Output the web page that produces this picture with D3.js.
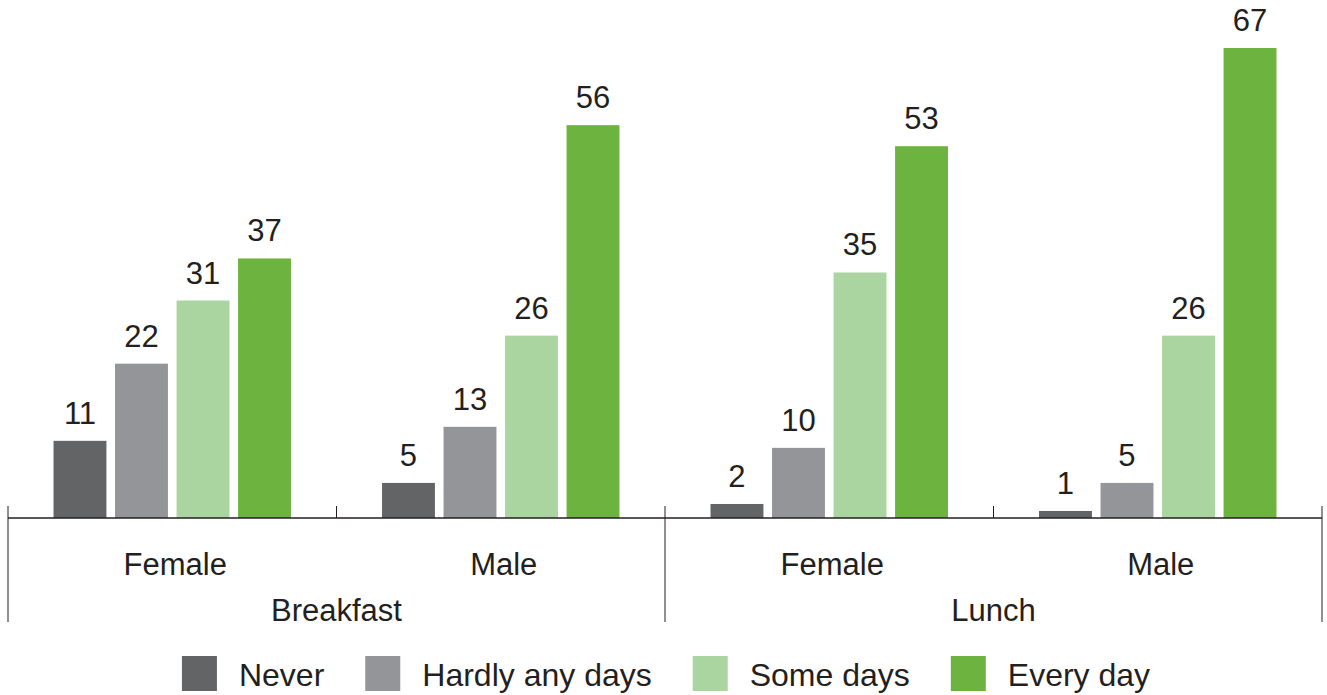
<!DOCTYPE html>
<html>
<head>
<meta charset="utf-8">
<script src="https://cdn.jsdelivr.net/npm/d3@7/dist/d3.min.js"></script>
<style>
  html, body { margin: 0; padding: 0; background: #ffffff; }
  svg { display: block; }
  text { font-family: "Liberation Sans", Arial, sans-serif; fill: #231f20; }
</style>
</head>
<body>
<svg id="chart" width="1327" height="695"></svg>
<script>
// ---- data ----
const meals = ["Breakfast", "Lunch"];
const genders = ["Female", "Male"];
const seriesNames = ["Never", "Hardly any days", "Some days", "Every day"];
const seriesColors = ["#636466", "#949599", "#aad5a0", "#6db33f"];
// values per group in order: Breakfast-Female, Breakfast-Male, Lunch-Female, Lunch-Male
const never = [11, 5, 2, 1];
const hardly = [22, 13, 10, 5];
const someDays = [31, 26, 35, 26];
const everyDay = [37, 56, 53, 67];

const seriesValues = [never, hardly, someDays, everyDay];

const groups = [];
meals.forEach(m => genders.forEach(g => groups.push({meal: m, gender: g, key: m + "|" + g})));

const svg = d3.select("#chart");
const left = 8, right = 1322, baseY = 518;

const x0 = d3.scaleBand().domain(groups.map(d => d.key)).range([left, right]).padding(0);
const x1 = d3.scaleBand().domain(seriesNames).range([0, x0.bandwidth()])
  .paddingInner(0.14).paddingOuter(0.74);
const y = d3.scaleLinear().domain([0, 70]).range([baseY, baseY - 70 * 7.015]);

const fs = 31;

// bars
groups.forEach((g, gi) => {
  const gx = x0(g.key);
  seriesNames.forEach((s, si) => {
    const v = seriesValues[si][gi];
    svg.append("rect")
      .attr("x", gx + x1(s))
      .attr("y", y(v))
      .attr("width", x1.bandwidth())
      .attr("height", baseY - y(v))
      .attr("fill", seriesColors[si]);
    svg.append("text")
      .attr("x", gx + x1(s) + x1.bandwidth() / 2)
      .attr("y", y(v) - 17)
      .attr("text-anchor", "middle")
      .attr("font-size", fs)
      .text(v);
  });
});

// axis line
const axisColor = "#231f20";
svg.append("line").attr("x1", left).attr("x2", right).attr("y1", baseY).attr("y2", baseY)
  .attr("stroke", axisColor).attr("stroke-width", 1.3);

// group ticks
groups.forEach((g, gi) => {
  const gx = x0(g.key);
  const isMealStart = gi % genders.length === 0;
  svg.append("line").attr("x1", gx).attr("x2", gx)
    .attr("y1", baseY - 12).attr("y2", isMealStart ? 622 : baseY)
    .attr("stroke", axisColor).attr("stroke-width", 1);
  svg.append("text")
    .attr("x", gx + x0.bandwidth() / 2 + 3)
    .attr("y", 575)
    .attr("text-anchor", "middle")
    .attr("font-size", fs)
    .text(g.gender);
});
// last tick
svg.append("line").attr("x1", right).attr("x2", right)
  .attr("y1", baseY - 12).attr("y2", 622)
  .attr("stroke", axisColor).attr("stroke-width", 1);

// meal labels
meals.forEach((m, mi) => {
  const start = x0(groups[mi * genders.length].key);
  const end = x0(groups[mi * genders.length + genders.length - 1].key) + x0.bandwidth();
  svg.append("text")
    .attr("x", (start + end) / 2)
    .attr("y", 621)
    .attr("text-anchor", "middle")
    .attr("font-size", fs)
    .text(m);
});

// legend
const legend = svg.append("g");
let cx = 0;
const sq = 35, gapText = 22, gapItem = 41, lfs = 32;
seriesNames.forEach((s, si) => {
  const item = legend.append("g").attr("transform", `translate(${cx},0)`);
  item.append("rect").attr("x", 0).attr("y", 656).attr("width", sq).attr("height", sq)
    .attr("fill", seriesColors[si]);
  const t = item.append("text").attr("x", sq + gapText).attr("y", 686)
    .attr("font-size", lfs).text(s);
  const w = t.node().getComputedTextLength();
  cx += sq + gapText + w + gapItem;
});
const totalW = cx - gapItem;
legend.attr("transform", `translate(${(left + right) / 2 - totalW / 2 + 1},0)`);
</script>
</body>
</html>
